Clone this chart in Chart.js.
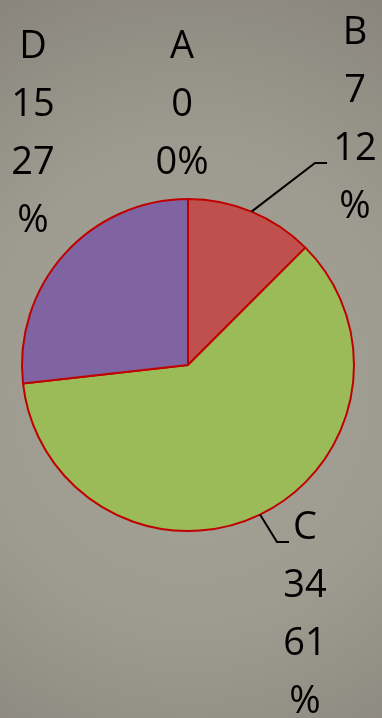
<!DOCTYPE html>
<html>
<head>
<meta charset="utf-8">
<script src="https://cdn.jsdelivr.net/npm/chart.js@4"></script>
<style>
  html, body { margin: 0; padding: 0; }
  body {
    width: 382px; height: 718px; overflow: hidden;
    background: radial-gradient(ellipse 130% 75% at 50% 54%, #a6a497 0%, #9d9b8f 45%, #8a867e 80%, #7f7b74 100%);
  }
  #wrap { position: relative; width: 382px; height: 718px; }
</style>
</head>
<body>
<div id="wrap"><canvas id="pie"></canvas></div>
<script>
const categories = ["A", "B", "C", "D"];
const values = [0, 7, 34, 15];
const percentLabels = [["0%"], ["12", "%"], ["61", "%"], ["27", "%"]];

const sliceColors = ["#4f81bd", "#c0504d", "#9bbb59", "#8064a2"];

// where each data label sits, relative to the pie centre (first line centre)
const labelSpots = [
  { dx: -6, dy: -318 },
  { dx: 167, dy: -332 },
  { dx: 117, dy: 163 },
  { dx: -155, dy: -318 }
];
// leader elbows, relative to the pie centre; null = no leader
const leaderElbows = [
  null,
  { dx: 127, dy: -202, len: 12 },
  { dx: 89, dy: 177, len: 12 },
  null
];

const LINE_H = 58;

const labelPlugin = {
  id: "pieLabels",
  afterDatasetsDraw(chart) {
    const ctx = chart.ctx;
    const meta = chart.getDatasetMeta(0);
    ctx.save();
    meta.data.forEach((arc, i) => {
      const { x, y, outerRadius, startAngle, endAngle } = arc.getProps(
        ["x", "y", "outerRadius", "startAngle", "endAngle"], true);
      const mid = (startAngle + endAngle) / 2;
      const elbow = leaderElbows[i];
      if (elbow) {
        const sx = x + Math.cos(mid) * outerRadius;
        const sy = y + Math.sin(mid) * outerRadius;
        ctx.beginPath();
        ctx.strokeStyle = "#000";
        ctx.lineWidth = 2;
        ctx.moveTo(sx, sy);
        ctx.lineTo(x + elbow.dx, y + elbow.dy);
        ctx.lineTo(x + elbow.dx + elbow.len, y + elbow.dy);
        ctx.stroke();
      }
      const spot = labelSpots[i];
      const lines = [categories[i], String(values[i])].concat(percentLabels[i]);
      ctx.fillStyle = "#000";
      ctx.font = "38px 'Open Sans', sans-serif";
      ctx.textAlign = "center";
      ctx.textBaseline = "middle";
      lines.forEach((t, k) => {
        ctx.fillText(t, x + spot.dx, y + spot.dy + k * LINE_H);
      });
    });
    ctx.restore();
  }
};

new Chart(document.getElementById("pie"), {
  type: "pie",
  data: {
    labels: categories,
    datasets: [{
      data: values,
      backgroundColor: sliceColors,
      borderColor: "#c00000",
      borderWidth: 2
    }]
  },
  options: {
    responsive: true,
    maintainAspectRatio: false,
    animation: false,
    layout: { padding: { left: 21, right: 27, top: 198, bottom: 186 } },
    plugins: { legend: { display: false }, tooltip: { enabled: false } }
  },
  plugins: [labelPlugin]
});
</script>
</body>
</html>
